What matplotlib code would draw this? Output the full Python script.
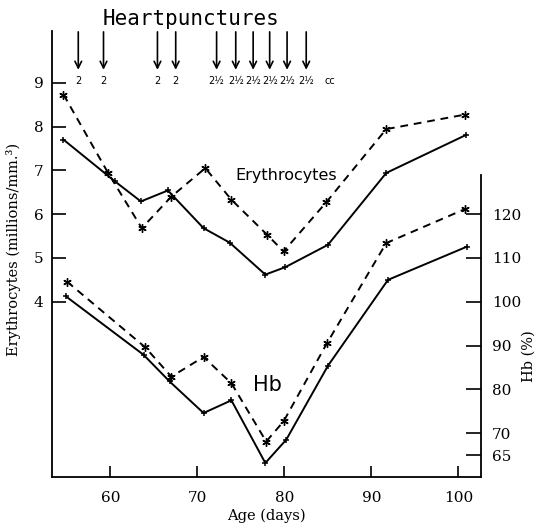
import matplotlib
matplotlib.use("Agg")
import matplotlib.pyplot as plt

plt.rcParams["font.family"] = ["DejaVu Serif"]

# Erythrocyte counts (millions/mm^3) for the two animals
ery_solid_age = [54.6, 60.5, 63.5, 66.6, 70.7, 73.7, 77.8, 80.1, 85.0, 91.7, 100.9]
ery_solid = [7.70, 6.75, 6.29, 6.54, 5.68, 5.35, 4.62, 4.79, 5.30, 6.94, 7.81]
ery_dash_age = [54.6, 59.7, 63.6, 67.0, 70.9, 73.9, 78.0, 79.9, 84.8, 91.7, 100.7]
ery_dash = [8.73, 6.95, 5.68, 6.40, 7.05, 6.33, 5.53, 5.15, 6.27, 7.94, 8.27]

# Haemoglobin (%) for the two animals
hb_solid_age = [54.9, 63.8, 66.8, 70.7, 73.9, 77.8, 80.2, 85.0, 91.9, 101.0]
hb_solid = [101.2, 87.9, 81.8, 74.6, 77.5, 63.2, 68.5, 85.4, 105.0, 112.6]
hb_dash_age = [55.0, 64.0, 67.0, 70.7, 73.9, 77.9, 79.9, 84.9, 91.7, 100.8]
hb_dash = [104.6, 89.6, 82.9, 87.4, 81.4, 68.1, 72.7, 90.6, 113.4, 121.2]

# Heart punctures: day and volume withdrawn
puncture_days = [56.3, 59.2, 65.4, 67.5, 72.2, 74.4, 76.4, 78.3, 80.3, 82.5]
puncture_labels = ["2", "2", "2", "2", "2½", "2½", "2½", "2½", "2½", "2½"]

x_ticks = [60, 70, 80, 90, 100]
left_ticks = [4, 5, 6, 7, 8, 9]
right_ticks = [65, 70, 80, 90, 100, 110, 120]

hand = "DejaVu Sans"

fig = plt.figure(figsize=(5.36, 5.25), dpi=100)
ax = fig.add_axes([52 / 536, 1 - 477 / 525, (481 - 52) / 536, (477 - 31) / 525])
ax2 = ax.twinx()

x_lo, x_hi = 53.28, 102.59
e_lo, e_hi = 0.0, 10.18
ax.set_xlim(x_lo, x_hi)
ax.set_ylim(e_lo, e_hi)
ax2.set_ylim(60 + 10 * e_lo, 60 + 10 * e_hi)

dash = (0, (4, 3))
solid_kw = dict(color="black", lw=1.4, marker="+", ms=5, mew=1.1)
dash_kw = dict(color="black", lw=1.4, ls=dash, marker=(6, 2, 0), ms=6, mew=1.0)

ax.plot(ery_solid_age, ery_solid, **solid_kw)
ax.plot(ery_dash_age, ery_dash, **dash_kw)
ax2.plot(hb_solid_age, hb_solid, **solid_kw)
ax2.plot(hb_dash_age, hb_dash, **dash_kw)

# Spines
for a in (ax, ax2):
    a.spines["top"].set_visible(False)
ax.spines["right"].set_visible(False)
ax2.spines["left"].set_visible(False)
ax2.spines["bottom"].set_visible(False)
ax2.spines["right"].set_bounds(60, 129)
for s in ("left", "bottom"):
    ax.spines[s].set_linewidth(1.3)
ax2.spines["right"].set_linewidth(1.3)

ax.set_xticks(x_ticks)
ax.set_yticks(left_ticks)
ax2.set_yticks(right_ticks)
ax.tick_params(axis="x", direction="in", length=8, width=1.2, pad=10,
               labelsize=11)
ax.tick_params(axis="y", direction="in", length=10, width=1.2, pad=6,
               labelsize=11)
ax2.tick_params(axis="y", direction="in", length=11, width=1.2, pad=8,
                labelsize=11)

ax.set_xlabel("Age (days)", fontsize=10.5, labelpad=3)
ax.set_ylabel("Erythrocytes (millions/mm.³)", fontsize=10.5)
ax.yaxis.set_label_coords(-0.072, 0.51)
ax2.set_ylabel("Hb (%)", fontsize=10.5, rotation=90)
ax2.yaxis.set_label_coords(1.095, 0.27)

# Heart puncture arrows along the top
xt = ax.get_xaxis_transform()
for d, lab in zip(puncture_days, puncture_labels):
    ax.annotate("", xy=(d, 0.913), xytext=(d, 0.998), xycoords=xt,
                textcoords=xt,
                arrowprops=dict(arrowstyle="->", lw=1.2, color="black",
                                mutation_scale=12, shrinkA=0, shrinkB=0))
    ax.text(d, 0.888, lab, transform=xt, ha="center", va="center",
            fontsize=7, family=hand, color="black")
ax.text(85.2, 0.888, "cc", transform=xt, ha="center", va="center",
        fontsize=7, family=hand, color="black")
ax.text(69.2, 1.027, "Heartpunctures", transform=xt, ha="center",
        va="center", fontsize=15, family="DejaVu Sans Mono", clip_on=False)

ax.text(80.2, 6.88, "Erythrocytes", ha="center", va="center", fontsize=11.5,
        family=hand)
ax.text(78.0, 2.10, "Hb", ha="center", va="center", fontsize=15, family=hand)

fig.savefig("out.png", dpi=100, facecolor="white")
